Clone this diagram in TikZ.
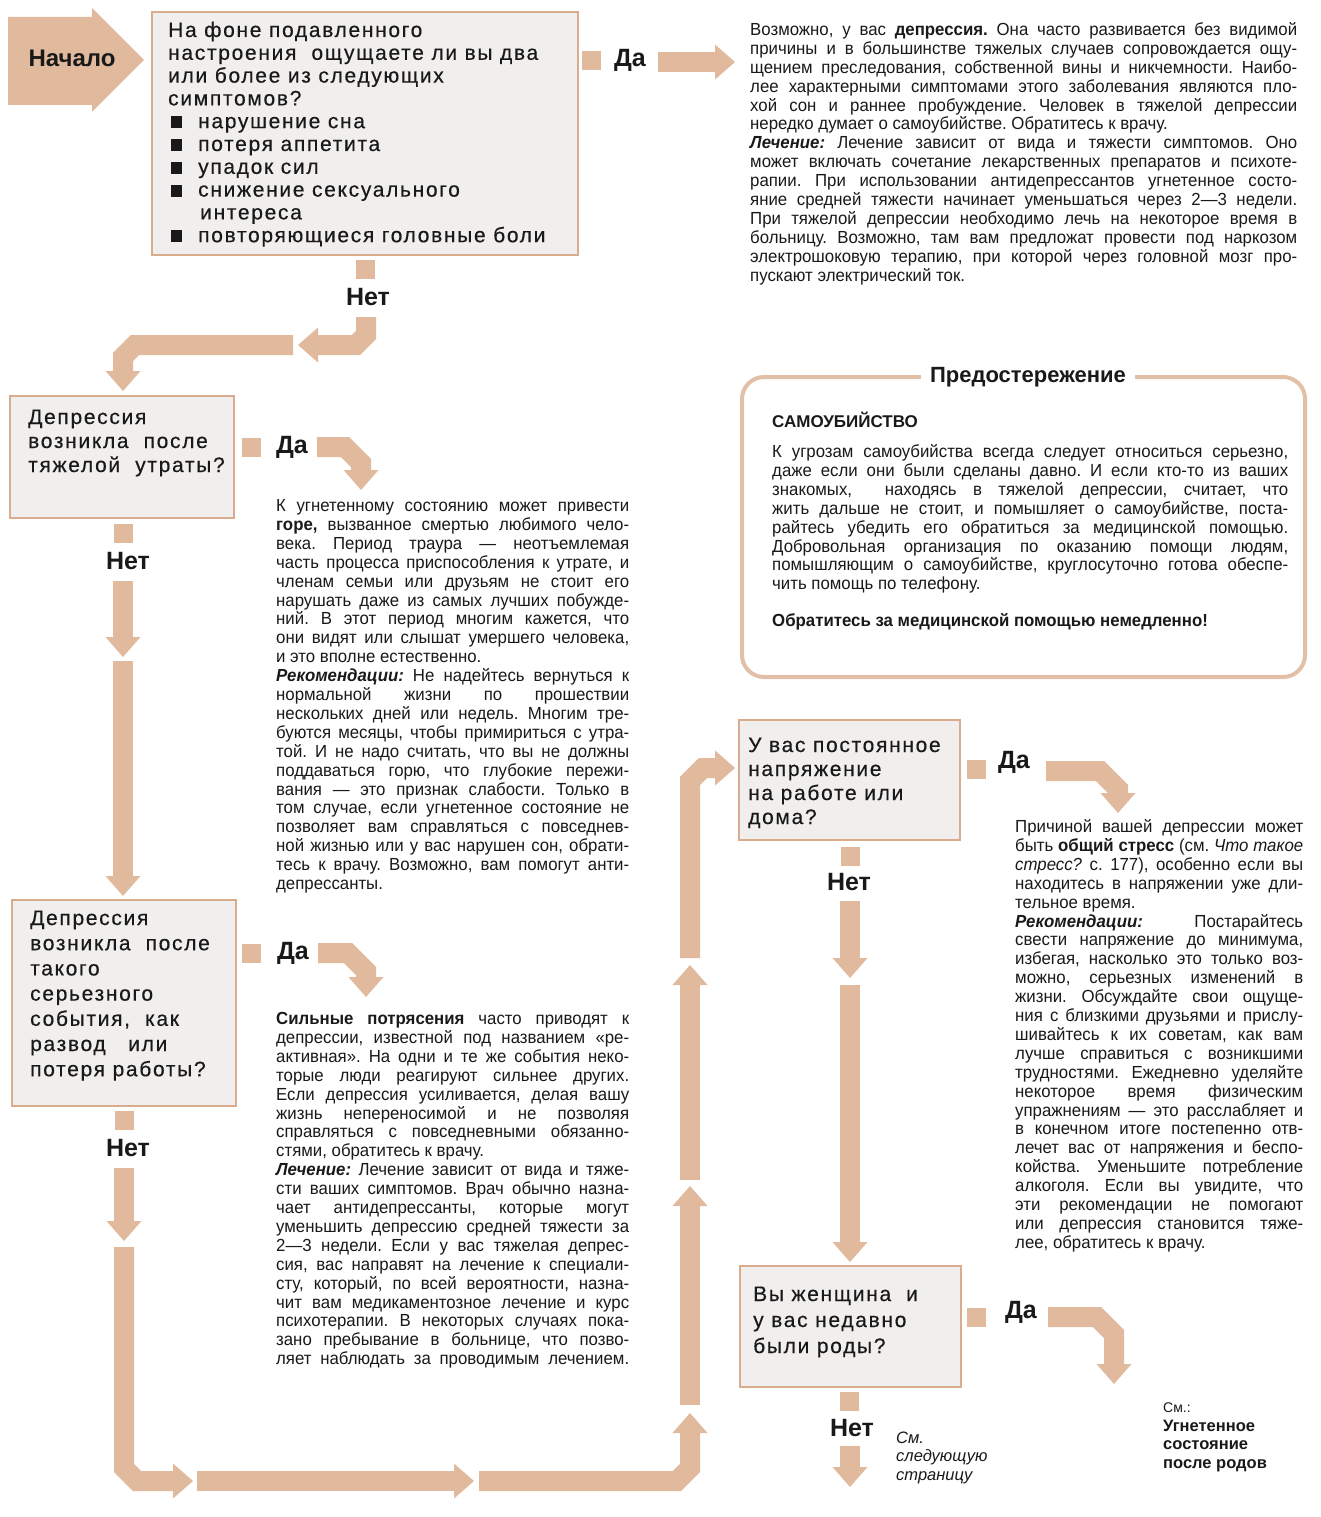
\documentclass[tikz,border=0pt]{standalone}
\usepackage{fontspec}
\setmainfont{Liberation Sans}
\newfontfamily\bodyfam[FakeStretch=0.96]{Liberation Sans}
\newfontfamily\qfam[LetterSpace=8,FakeBold=0.4]{Liberation Sans}
\usetikzlibrary{arrows.meta}
\definecolor{tanc}{RGB}{225,186,158}
\definecolor{tanline}{RGB}{218,172,142}
\definecolor{boxfill}{RGB}{241,239,237}
\definecolor{warnc}{RGB}{226,192,168}
\definecolor{inkc}{RGB}{25,25,25}
\frenchspacing
\newcommand\bodyf{\bodyfam\fontsize{17.5}{18.9}\selectfont}
\newcommand\J[1]{\leavevmode\hbox to \hsize{\spaceskip=0pt\xspaceskip=0pt\relax#1}}
\newcommand\bi[1]{\textbf{\textit{#1}}}
\newcommand\bul{\hspace*{3pt}\rule{11pt}{12pt}\hspace*{16pt}}
\tikzset{
  qbox/.style={draw=tanline, line width=1.5pt, fill=boxfill, inner sep=0pt},
  qtext/.style={anchor=base west, inner sep=0pt, align=flush left, text width=420pt, text=inkc},
  body/.style={anchor=base west, inner sep=0pt, align=flush left, font=\bodyf, text=inkc},
  sq/.style={fill=tanc, minimum size=19pt, inner sep=0pt},
  ans/.style={font=\fontsize{25}{25}\selectfont\bfseries, text=inkc, inner sep=0pt},
  flow/.style={draw=tanc, line width=20pt, -{Triangle[length=20pt,width=35pt,line width=0pt]}},
}
\begin{document}
\begin{tikzpicture}[x=1pt,y=-1pt]
\useasboundingbox[fill=white] (0,0) rectangle (1320,1517);

% start arrow
\fill[tanc] (8,17) -- (92,17) -- (92,8) -- (144,60) -- (92,112) -- (92,105) -- (8,105) -- cycle;
\node[font=\fontsize{24}{24}\selectfont\bfseries, text=inkc] (start) at (72,58) {Начало};

% question boxes
\node[qbox, minimum width=426pt, minimum height=243pt] (b1) at (365,133.5) {};
\node[qbox, minimum width=224pt, minimum height=122pt] (b2) at (122,457) {};
\node[qbox, minimum width=224pt, minimum height=206pt] (b3) at (124,1003) {};
\node[qbox, minimum width=221pt, minimum height=120pt] (b4) at (849.5,780) {};
\node[qbox, minimum width=221pt, minimum height=121pt] (b5) at (850.5,1326.5) {};

\node[qtext, font=\qfam\fontsize{21}{22.8}\selectfont] (b1t) at (168,37) {На фоне подавленного\\
настроения\ \ ощущаете ли вы два\\
или более из следующих\\
симптомов?\\
\bul нарушение сна\\
\bul потеря аппетита\\
\bul упадок сил\\
\bul снижение сексуального\\
\hspace*{32pt}интереса\\
\bul повторяющиеся головные боли};

\node[qtext, font=\qfam\fontsize{21}{24}\selectfont] (b2t) at (28,424) {Депрессия\\возникла\ \ после\\тяжелой\ \ утраты?};
\node[qtext, font=\qfam\fontsize{21}{25.2}\selectfont] (b3t) at (30,925) {Депрессия\\возникла\ \ после\\такого\\серьезного\\события,\ \ как\\развод\ \ \ или\\потеря работы?};
\node[qtext, font=\qfam\fontsize{21}{24}\selectfont] (b4t) at (748,752) {У вас постоянное\\напряжение\\на работе или\\дома?};
\node[qtext, font=\qfam\fontsize{21}{26}\selectfont] (b5t) at (753,1301) {Вы женщина\ \ и\\у вас недавно\\были роды?};

% small squares
\node[sq] (s1y) at (591,61) {};
\node[sq] (s1n) at (365,269) {};
\node[sq] (s2y) at (251,447) {};
\node[sq] (s2n) at (123,533) {};
\node[sq] (s3y) at (251,953) {};
\node[sq] (s3n) at (124,1120) {};
\node[sq] (s4y) at (976,769) {};
\node[sq] (s4n) at (850,856) {};
\node[sq] (s5y) at (976,1317) {};
\node[sq] (s5n) at (849,1401) {};

% answers
\node[ans] (y1) at (630,60) {Да};
\node[ans] (n1) at (368,297) {Нет};
\node[ans] (y2) at (292,447) {Да};
\node[ans] (n2) at (128,561) {Нет};
\node[ans] (y3) at (293,953) {Да};
\node[ans] (n3) at (128,1148) {Нет};
\node[ans] (y4) at (1014,762) {Да};
\node[ans] (n4) at (849,882) {Нет};
\node[ans] (y5) at (1021,1312) {Да};
\node[ans] (n5) at (852,1428) {Нет};

% connectors
\coordinate (c0s) at (658,62);   \coordinate (c0e) at (735,62);
\draw[flow] (c0s) -- (c0e);
\coordinate (c1s) at (366,317);  \coordinate (c1e) at (298,345);
\draw[flow] (c1s) -- (366,335) -- (356,345) -- (c1e);
\coordinate (c2s) at (293,345);  \coordinate (c2e) at (123,391);
\draw[flow] (c2s) -- (135,345) -- (123,357) -- (c2e);
\coordinate (c3s) at (317,447);  \coordinate (c3e) at (361,490);
\draw[flow] (c3s) -- (345,447) -- (361,463) -- (c3e);
\coordinate (c4s) at (123,581);  \coordinate (c4e) at (123,657);
\draw[flow] (c4s) -- (c4e);
\coordinate (c5s) at (123,661);  \coordinate (c5e) at (123,896);
\draw[flow] (c5s) -- (c5e);
\coordinate (c6s) at (318,953);  \coordinate (c6e) at (366,997);
\draw[flow] (c6s) -- (348,953) -- (366,971) -- (c6e);
\coordinate (c7s) at (124,1168); \coordinate (c7e) at (124,1241);
\draw[flow] (c7s) -- (c7e);
\coordinate (c8s) at (124,1247); \coordinate (c8e) at (193,1481);
\draw[flow] (c8s) -- (124,1468) -- (137,1481) -- (c8e);
\coordinate (c9s) at (197,1481); \coordinate (c9e) at (474,1481);
\draw[flow] (c9s) -- (c9e);
\coordinate (c10s) at (479,1481); \coordinate (c10e) at (690,1413);
\draw[flow] (c10s) -- (677,1481) -- (690,1468) -- (c10e);
\coordinate (c11s) at (690,1405); \coordinate (c11e) at (690,1186);
\draw[flow] (c11s) -- (c11e);
\coordinate (c12s) at (690,1180); \coordinate (c12e) at (690,965);
\draw[flow] (c12s) -- (c12e);
\coordinate (c13s) at (690,958); \coordinate (c13e) at (735,768);
\draw[flow] (c13s) -- (690,781) -- (703,768) -- (c13e);
\coordinate (c14s) at (1046,771); \coordinate (c14e) at (1118,813);
\draw[flow] (c14s) -- (1100,771) -- (1118,789) -- (c14e);
\coordinate (c15s) at (850,901); \coordinate (c15e) at (850,978);
\draw[flow] (c15s) -- (c15e);
\coordinate (c16s) at (850,985); \coordinate (c16e) at (850,1262);
\draw[flow] (c16s) -- (c16e);
\coordinate (c17s) at (1048,1317); \coordinate (c17e) at (1114,1384);
\draw[flow] (c17s) -- (1097,1317) -- (1114,1334) -- (c17e);
\coordinate (c18s) at (850,1446); \coordinate (c18e) at (850,1487);
\draw[flow] (c18s) -- (c18e);

% warning box
\node[draw=warnc, line width=4pt, rounded corners=22pt, minimum width=563pt, minimum height=300pt, inner sep=0pt] (warn) at (1023.5,527) {};
\node[fill=white, inner xsep=9pt, inner ysep=3pt, font=\fontsize{22}{22}\selectfont\bfseries, text=inkc] (warnt) at (1028,377) {Предостережение};
\node[anchor=base west, inner sep=0pt, font=\fontsize{17}{17}\selectfont\bfseries, text=inkc] (suic) at (772,427.5) {САМОУБИЙСТВО};
\node[body, text width=516pt] (wtext) at (772,457.5) {%
\J{К угрозам самоубийства всегда следует относиться серьезно,}\\
\J{даже если они были сделаны давно. И если кто-то из ваших}\\
\J{знакомых,\ \ находясь в тяжелой депрессии, считает, что}\\
\J{жить дальше не стоит, и помышляет о самоубийстве, поста-}\\
\J{райтесь убедить его обратиться за медицинской помощью.}\\
\J{Добровольная организация по оказанию помощи людям,}\\
\J{помышляющим о самоубийстве, круглосуточно готова обеспе-}\\
чить помощь по телефону.};
\node[anchor=base west, inner sep=0pt, font=\bodyf\bfseries, text=inkc] (wurg) at (772,626.5) {Обратитесь за медицинской помощью немедленно!};

% body texts
\node[body, text width=547pt] (t1) at (750,35.5) {%
\J{Возможно, у вас \textbf{депрессия.} Она часто развивается без видимой}\\
\J{причины и в большинстве тяжелых случаев сопровождается ощу-}\\
\J{щением преследования, собственной вины и никчемности. Наибо-}\\
\J{лее характерными симптомами этого заболевания являются пло-}\\
\J{хой сон и раннее пробуждение. Человек в тяжелой депрессии}\\
нередко думает о самоубийстве. Обратитесь к врачу.\\
\J{\bi{Лечение:} Лечение зависит от вида и тяжести симптомов. Оно}\\
\J{может включать сочетание лекарственных препаратов и психоте-}\\
\J{рапии. При использовании антидепрессантов угнетенное состо-}\\
\J{яние средней тяжести начинает уменьшаться через 2—3 недели.}\\
\J{При тяжелой депрессии необходимо лечь на некоторое время в}\\
\J{больницу. Возможно, там вам предложат провести под наркозом}\\
\J{электрошоковую терапию, при которой через головной мозг про-}\\
пускают электрический ток.};

\node[body, text width=353pt] (t2) at (276,511.5) {%
\J{К угнетенному состоянию может привести}\\
\J{\textbf{горе,} вызванное смертью любимого чело-}\\
\J{века. Период траура — неотъемлемая}\\
\J{часть процесса приспособления к утрате, и}\\
\J{членам семьи или друзьям не стоит его}\\
\J{нарушать даже из самых лучших побужде-}\\
\J{ний. В этот период многим кажется, что}\\
\J{они видят или слышат умершего человека,}\\
и это вполне естественно.\\
\J{\bi{Рекомендации:} Не надейтесь вернуться к}\\
\J{нормальной жизни по прошествии}\\
\J{нескольких дней или недель. Многим тре-}\\
\J{буются месяцы, чтобы примириться с утра-}\\
\J{той. И не надо считать, что вы не должны}\\
\J{поддаваться горю, что глубокие пережи-}\\
\J{вания — это признак слабости. Только в}\\
\J{том случае, если угнетенное состояние не}\\
\J{позволяет вам справляться с повседнев-}\\
\J{ной жизнью или у вас нарушен сон, обрати-}\\
\J{тесь к врачу. Возможно, вам помогут анти-}\\
депрессанты.};

\node[body, text width=353pt] (t3) at (276,1024.5) {%
\J{\textbf{Сильные потрясения} часто приводят к}\\
\J{депрессии, известной под названием «ре-}\\
\J{активная». На одни и те же события неко-}\\
\J{торые люди реагируют сильнее других.}\\
\J{Если депрессия усиливается, делая вашу}\\
\J{жизнь непереносимой и не позволяя}\\
\J{справляться с повседневными обязанно-}\\
стями, обратитесь к врачу.\\
\J{\bi{Лечение:} Лечение зависит от вида и тяже-}\\
\J{сти ваших симптомов. Врач обычно назна-}\\
\J{чает антидепрессанты, которые могут}\\
\J{уменьшить депрессию средней тяжести за}\\
\J{2—3 недели. Если у вас тяжелая депрес-}\\
\J{сия, вас направят на лечение к специали-}\\
\J{сту, который, по всей вероятности, назна-}\\
\J{чит вам медикаментозное лечение и курс}\\
\J{психотерапии. В некоторых случаях пока-}\\
\J{зано пребывание в больнице, что позво-}\\
\J{ляет наблюдать за проводимым лечением.}};

\node[body, text width=288pt] (t4) at (1015,832.5) {%
\J{Причиной вашей депрессии может}\\
\J{быть \textbf{общий стресс} (см. \textit{Что такое}}\\
\J{\textit{стресс?} с. 177), особенно если вы}\\
\J{находитесь в напряжении уже дли-}\\
тельное время.\\
\J{\bi{Рекомендации:} Постарайтесь}\\
\J{свести напряжение до минимума,}\\
\J{избегая, насколько это только воз-}\\
\J{можно, серьезных изменений в}\\
\J{жизни. Обсуждайте свои ощуще-}\\
\J{ния с близкими друзьями и прислу-}\\
\J{шивайтесь к их советам, как вам}\\
\J{лучше справиться с возникшими}\\
\J{трудностями. Ежедневно уделяйте}\\
\J{некоторое время физическим}\\
\J{упражнениям — это расслабляет и}\\
\J{в конечном итоге постепенно отв-}\\
\J{лечет вас от напряжения и беспо-}\\
\J{койства. Уменьшите потребление}\\
\J{алкоголя. Если вы увидите, что}\\
\J{эти рекомендации не помогают}\\
\J{или депрессия становится тяже-}\\
лее, обратитесь к врачу.};

% references to other pages
\node[anchor=base west, inner sep=0pt, align=flush left, text width=120pt, font=\fontsize{16.5}{18.9}\selectfont\itshape, text=inkc] (nextp) at (896,1443) {См.\\следующую\\страницу};
\node[anchor=base west, inner sep=0pt, font=\fontsize{14}{14}\selectfont, text=inkc] (see1) at (1163,1412) {См.:};
\node[anchor=base west, inner sep=0pt, align=flush left, text width=150pt, font=\fontsize{16.5}{18.9}\selectfont\bfseries, text=inkc] (see2) at (1163,1431) {Угнетенное\\состояние\\после родов};
\end{tikzpicture}
\end{document}
